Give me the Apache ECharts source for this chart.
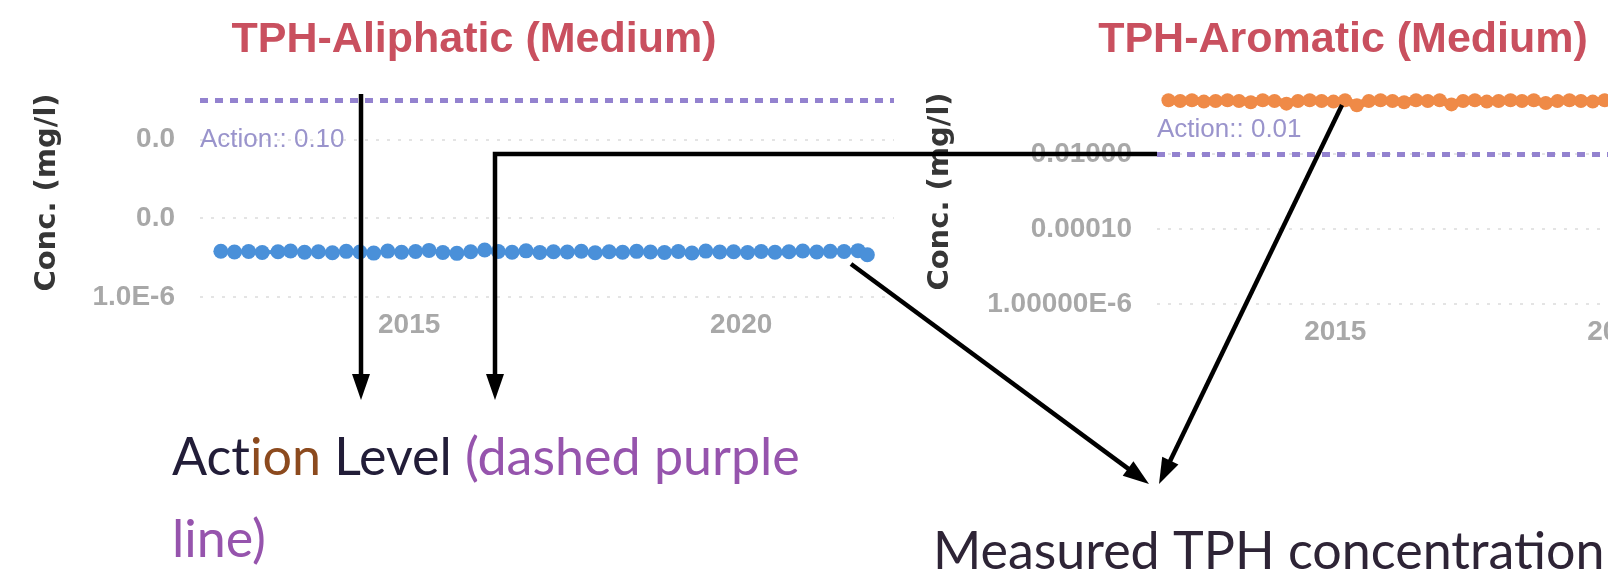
<!DOCTYPE html>
<html>
<head>
<meta charset="utf-8">
<script src="https://cdn.jsdelivr.net/npm/echarts@6/dist/echarts.min.js"></script>
<style>
  html, body { margin: 0; padding: 0; background: #ffffff; }
  #chart { width: 1608px; height: 573px; }
</style>
</head>
<body>
<div id="chart"></div>
<script>
// Sampling dates and measured concentrations (mg/l)
const aliphaticDates = [
  '2012-03-01', '2012-05-15', '2012-08-01', '2012-10-15', '2013-01-10', '2013-03-20',
  '2013-06-05', '2013-08-20', '2013-11-05', '2014-01-20', '2014-04-05', '2014-06-20',
  '2014-09-05', '2014-11-20', '2015-02-05', '2015-04-20', '2015-07-05', '2015-09-20',
  '2015-12-05', '2016-02-20', '2016-05-05', '2016-07-20', '2016-10-05', '2016-12-20',
  '2017-03-05', '2017-05-20', '2017-08-05', '2017-10-20', '2018-01-05', '2018-03-20',
  '2018-06-05', '2018-08-20', '2018-11-05', '2019-01-20', '2019-04-05', '2019-06-20',
  '2019-09-05', '2019-11-20', '2020-02-05', '2020-04-20', '2020-07-05', '2020-09-20',
  '2020-12-05', '2021-02-20', '2021-05-05', '2021-07-20', '2021-10-05', '2021-11-25'
];
const aliphaticConc = [
  1.45e-5, 1.38e-5, 1.42e-5, 1.35e-5, 1.40e-5, 1.47e-5, 1.36e-5, 1.41e-5, 1.33e-5, 1.44e-5,
  1.39e-5, 1.30e-5, 1.46e-5, 1.37e-5, 1.42e-5, 1.52e-5, 1.35e-5, 1.28e-5, 1.40e-5, 1.55e-5,
  1.43e-5, 1.36e-5, 1.48e-5, 1.34e-5, 1.41e-5, 1.38e-5, 1.45e-5, 1.32e-5, 1.40e-5, 1.37e-5,
  1.44e-5, 1.39e-5, 1.35e-5, 1.42e-5, 1.31e-5, 1.46e-5, 1.38e-5, 1.40e-5, 1.34e-5, 1.43e-5,
  1.36e-5, 1.41e-5, 1.47e-5, 1.39e-5, 1.44e-5, 1.42e-5, 1.50e-5, 1.18e-5
];
const aromaticDates = [
  '2012-01-20', '2012-04-05', '2012-06-20', '2012-09-05', '2012-11-20', '2013-02-05',
  '2013-04-20', '2013-07-05', '2013-09-20', '2013-12-05', '2014-02-20', '2014-05-05',
  '2014-07-20', '2014-10-05', '2014-12-20', '2015-03-05', '2015-05-20', '2015-08-05',
  '2015-10-20', '2016-01-05', '2016-03-20', '2016-06-05', '2016-08-20', '2016-11-05',
  '2017-01-20', '2017-04-05', '2017-06-20', '2017-09-05', '2017-11-20', '2018-02-05',
  '2018-04-20', '2018-07-05', '2018-09-20', '2018-12-05', '2019-02-20', '2019-05-05',
  '2019-07-20', '2019-10-05', '2019-12-20', '2020-03-05', '2020-05-20', '2020-08-05',
  '2020-10-20', '2021-01-05', '2021-03-20', '2021-06-05', '2021-08-20', '2021-11-05'
];
const aromaticConc = [
  0.27, 0.26, 0.27, 0.25, 0.26, 0.27, 0.26, 0.24, 0.27, 0.26, 0.22, 0.26,
  0.27, 0.26, 0.25, 0.27, 0.20, 0.26, 0.27, 0.26, 0.24, 0.27, 0.26, 0.27,
  0.21, 0.26, 0.27, 0.25, 0.26, 0.27, 0.26, 0.27, 0.23, 0.26, 0.27, 0.26,
  0.25, 0.27, 0.26, 0.22, 0.27, 0.26, 0.27, 0.25, 0.26, 0.27, 0.26, 0.25
];
const aliphaticAction = 0.10;
const aromaticAction = 0.01;
const yearLabels = [2015, 2020];
const chartTitles = ['TPH-Aliphatic (Medium)', 'TPH-Aromatic (Medium)'];
const concAxisName = 'Conc. (mg/l)';

// Date string -> fractional year for the value-type time axis
function toYear(s) {
  const d = new Date(s + 'T00:00:00Z');
  const y = d.getUTCFullYear();
  const a = Date.UTC(y, 0, 1), b = Date.UTC(y + 1, 0, 1);
  return y + (d.getTime() - a) / (b - a);
}
function pairs(dates, values) {
  return dates.map((d, i) => [toYear(d), values[i]]);
}

const tickFont = { fontFamily: 'Liberation Sans', fontWeight: 'bold', fontSize: 28, color: '#a8a8a8' };
const gridLine = {
  show: true, showMaxLine: false,
  lineStyle: { color: '#e4e4e4', width: 2, type: [3, 8] }
};

function xAxisFor(gridIndex) {
  return {
    type: 'value', gridIndex, min: 2011.85, max: 2022.3,
    axisLine: { show: false }, axisTick: { show: false }, splitLine: { show: false },
    axisLabel: Object.assign({ customValues: yearLabels, margin: 14, formatter: v => String(v) }, tickFont)
  };
}
function yAxisFor(gridIndex, max, nameGap, fmt) {
  return {
    type: 'log', logBase: 10, gridIndex, min: 1e-6, max, interval: 2,
    name: concAxisName, nameLocation: 'middle', nameGap,
    nameTextStyle: { fontFamily: 'DejaVu Sans', fontWeight: 'bold', fontSize: 29, color: '#363636' },
    axisLine: { show: false }, axisTick: { show: false },
    axisLabel: Object.assign({ margin: 25, showMaxLabel: false, formatter: fmt }, tickFont),
    splitLine: gridLine
  };
}
function actionLine(value, position, distance) {
  return {
    silent: true, symbol: ['none', 'none'], animation: false,
    lineStyle: { color: '#9382cf', width: 5, type: [8, 7], opacity: 1 },
    label: {
      show: true, position, distance,
      formatter: 'Action:: ' + value.toFixed(2),
      fontFamily: 'Liberation Sans', fontSize: 26, color: '#9a94cc'
    },
    data: [{ yAxis: value }]
  };
}

// Annotation arrows: shaft + filled head
function arrow(points) {
  const n = points.length;
  const [x1, y1] = points[n - 2], [x2, y2] = points[n - 1];
  const len = Math.hypot(x2 - x1, y2 - y1);
  const ux = (x2 - x1) / len, uy = (y2 - y1) / len;
  const hl = 26, hw = 9;
  const bx = x2 - ux * hl, by = y2 - uy * hl;
  const shaft = points.slice(0, n - 1).concat([[bx + ux * 3, by + uy * 3]]);
  return [
    { type: 'polyline', z: 100, shape: { points: shaft }, style: { stroke: '#000', lineWidth: 4.5, fill: null } },
    { type: 'polygon', z: 100, shape: { points: [[x2, y2], [bx - uy * hw, by + ux * hw], [bx + uy * hw, by - ux * hw]] }, style: { fill: '#000' } }
  ];
}

const chart = echarts.init(document.getElementById('chart'), null, { renderer: 'canvas' });

const titleStyle = { fontFamily: 'Liberation Sans', fontWeight: 'bold', fontSize: 43, fill: '#c9505f', align: 'center', verticalAlign: 'middle' };
const noteFont = { fontFamily: 'Lato', fontSize: 52, lineHeight: 60 };

chart.setOption({
  backgroundColor: '#ffffff',
  animation: false,
  grid: [
    { left: 200, width: 694, top: 88, bottom: 276, outerBoundsMode: 'none', containLabel: false },
    { left: 1157, width: 591.5, top: 79, bottom: 269, outerBoundsMode: 'none', containLabel: false }
  ],
  xAxis: [xAxisFor(0), xAxisFor(1)],
  yAxis: [
    yAxisFor(0, 0.2, 138, v => v < 1e-5 ? v.toExponential(1).toUpperCase() : v.toFixed(1)),
    yAxisFor(1, 1, 202, v => v < 1e-5 ? v.toExponential(5).toUpperCase() : v.toFixed(5))
  ],
  series: [
    {
      name: chartTitles[0], type: 'line', xAxisIndex: 0, yAxisIndex: 0,
      data: pairs(aliphaticDates, aliphaticConc),
      color: '#4a90d9', symbol: 'circle', symbolSize: 15, showAllSymbol: true,
      lineStyle: { width: 4 }, itemStyle: { opacity: 1 },
      markLine: actionLine(aliphaticAction, 'insideStartBottom', [0, 27])
    },
    {
      name: chartTitles[1], type: 'line', xAxisIndex: 1, yAxisIndex: 1,
      data: pairs(aromaticDates, aromaticConc),
      color: '#ef8a47', symbol: 'circle', symbolSize: 14, showAllSymbol: true,
      lineStyle: { width: 8 }, itemStyle: { opacity: 1 },
      markLine: actionLine(aromaticAction, 'insideStartTop', [0, 11])
    }
  ],
  graphic: [
    { type: 'text', x: 474, y: 40, style: Object.assign({ text: chartTitles[0] }, titleStyle) },
    { type: 'text', x: 1343, y: 40, style: Object.assign({ text: chartTitles[1] }, titleStyle) },
    ...arrow([[361, 94], [361, 400]]),
    ...arrow([[1157, 154], [495, 154], [495, 400]]),
    ...arrow([[851, 264], [1149, 484]]),
    ...arrow([[1342, 105], [1159, 484]]),
    {
      type: 'text', x: 172, y: 458, z: 100,
      style: {
        text: '{d|Act}{o|ion}{d| Level }{p|(dashed purple}',
        verticalAlign: 'middle', align: 'left',
        rich: {
          d: Object.assign({ fill: '#221d38' }, noteFont),
          o: Object.assign({ fill: '#8c4a1e' }, noteFont),
          p: Object.assign({ fill: '#9654ad' }, noteFont)
        }
      }
    },
    {
      type: 'text', x: 172, y: 540, z: 100,
      style: Object.assign({ text: 'line)', fill: '#9654ad', verticalAlign: 'middle', align: 'left' }, noteFont)
    },
    {
      type: 'text', x: 933, y: 552, z: 100,
      style: Object.assign({ text: 'Measured TPH concentration', fill: '#2e2436', verticalAlign: 'middle', align: 'left' }, noteFont)
    }
  ]
});
</script>
</body>
</html>
